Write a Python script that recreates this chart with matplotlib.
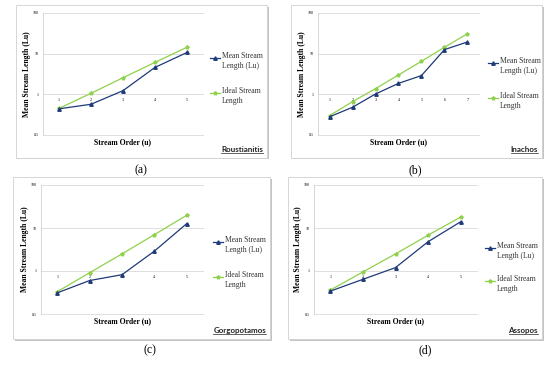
import matplotlib
matplotlib.use('Agg')
import matplotlib.pyplot as plt
from matplotlib.lines import Line2D
from matplotlib.patches import Rectangle

W, H = 550, 365

# stream order values for each basin
order_5 = [1, 2, 3, 4, 5]
order_7 = [1, 2, 3, 4, 5, 6, 7]

rous_mean = [0.44, 0.57, 1.23, 4.6, 10.7]
rous_ideal = [0.45, 1.06, 2.56, 6.1, 14.4]

inach_mean = [0.28, 0.48, 1.02, 1.86, 2.9, 12.6, 19.4]
inach_ideal = [0.30, 0.66, 1.38, 3.0, 6.5, 14.4, 31.0]

gorg_mean = [0.31, 0.60, 0.82, 2.9, 12.7]
gorg_ideal = [0.33, 0.91, 2.5, 7.0, 19.8]

asso_mean = [0.34, 0.64, 1.2, 4.8, 14.0]
asso_ideal = [0.36, 0.95, 2.5, 6.8, 18.0]

names = ['Roustianitis', 'Inachos', 'Gorgopotamos', 'Assopos']
tags = ['(a)', '(b)', '(c)', '(d)']
ytick_vals = [0.1, 1, 10, 100]
ytick_txt = ['0.1', '1', '10', '100']

navy = '#1f3a78'
green = '#8fd14a'
serif = 'Liberation Serif'

# layout in pixels: box (l, t, r, b), plot (l, t, r, b), legend x, legend y's, tag pos
panels = [
    dict(x=order_5, m=rous_mean, i=rous_ideal, box=(16, 5, 267, 158),
         plot=(43, 13, 203, 135), lx=210, ly=(58, 93), tag=(141, 170)),
    dict(x=order_7, m=inach_mean, i=inach_ideal, box=(291, 5, 542, 158),
         plot=(318, 13, 479, 135), lx=488, ly=(63, 98), tag=(415, 170)),
    dict(x=order_5, m=gorg_mean, i=gorg_ideal, box=(13, 177, 270, 339),
         plot=(41, 185, 203, 314), lx=213, ly=(242, 277), tag=(150, 350)),
    dict(x=order_5, m=asso_mean, i=asso_ideal, box=(288, 177, 542, 339),
         plot=(314, 185, 477, 314), lx=485, ly=(248, 281), tag=(425, 350)),
]


def fx(x):
    return x / W


def fy(y):
    return 1 - y / H


fig = plt.figure(figsize=(5.5, 3.65), dpi=100)
fig.patch.set_facecolor('white')
renderer = fig.canvas.get_renderer()

for k, p in enumerate(panels):
    bl, bt, br, bb = p['box']
    # shadow + frame
    fig.add_artist(Rectangle((fx(bl + 1.5), fy(bb + 1.5)), fx(br - bl), (bb - bt) / H,
                             facecolor='#c4c4c4', edgecolor='none', zorder=-3))
    fig.add_artist(Rectangle((fx(bl), fy(bb)), fx(br - bl), (bb - bt) / H,
                             facecolor='white', edgecolor='#d0d0d0', lw=0.6, zorder=-2))

    pl, pt, pr, pb = p['plot']
    ax = fig.add_axes([fx(pl), fy(pb), fx(pr - pl), (pb - pt) / H])
    ax.set_yscale('log')
    ax.set_ylim(0.1, 100)
    n = len(p['x'])
    ax.set_xlim(0.5, n + 0.5)
    ax.set_facecolor('none')
    for s in ['top', 'right', 'bottom']:
        ax.spines[s].set_visible(False)
    ax.spines['left'].set_color('#d0d0d0')
    ax.spines['left'].set_linewidth(0.6)
    ax.set_xticks([])
    ax.set_yticks(ytick_vals)
    ax.set_yticklabels(ytick_txt, fontsize=3, family=serif)
    ax.yaxis.set_minor_locator(matplotlib.ticker.NullLocator())
    ax.tick_params(axis='y', length=0, pad=3)
    for v in ytick_vals:
        ax.axhline(v, color='#d9d9d9', lw=0.6, zorder=0, clip_on=False)
    for xv in p['x']:
        ax.text(xv, 0.72, str(xv), fontsize=3, family=serif, ha='center', va='center')

    ax.plot(p['x'], p['i'], color=green, lw=0.9, marker='*', ms=2.8, zorder=3)
    ax.plot(p['x'], p['m'], color=navy, lw=0.9, marker='^', ms=2.5, zorder=4)

    ax.set_ylabel('Mean Stream Length (Lu)', fontsize=5.5, family=serif,
                  fontweight='bold', labelpad=1.5)
    ax.set_xlabel('Stream Order (u)', fontsize=5.5, family=serif,
                  fontweight='bold', labelpad=2)

    # legend
    lx = p['lx']
    for yy, col, mk, txt in [(p['ly'][0], navy, '^', 'Mean Stream\nLength (Lu)'),
                             (p['ly'][1], green, '*', 'Ideal Stream\nLength')]:
        fig.add_artist(Line2D([fx(lx), fx(lx + 10)], [fy(yy), fy(yy)], color=col,
                              lw=0.9))
        fig.add_artist(Line2D([fx(lx + 5)], [fy(yy)], color=col, marker=mk,
                              ms=2.8 if mk == '*' else 2.5))
        fig.text(fx(lx + 12), fy(yy + 3), txt, fontsize=5.5, family=serif,
                 va='center', ha='left', linespacing=1.3, color='#333333')

    # basin name, underlined
    t = fig.text(fx(br - 4), fy(bb - 9), names[k], fontsize=5.8, family='Lato',
                 fontweight='bold', ha='right', va='center', color='#222222')
    bbox = t.get_window_extent(renderer)
    fig.add_artist(Line2D([bbox.x0 / W, bbox.x1 / W],
                          [(bbox.y0 - 0.5) / H, (bbox.y0 - 0.5) / H],
                          color='#222222', lw=0.5))

    fig.text(fx(p['tag'][0]), fy(p['tag'][1]), tags[k], fontsize=8.5, family=serif,
             ha='center', va='center')

fig.savefig('out.png', dpi=100, facecolor='white')
